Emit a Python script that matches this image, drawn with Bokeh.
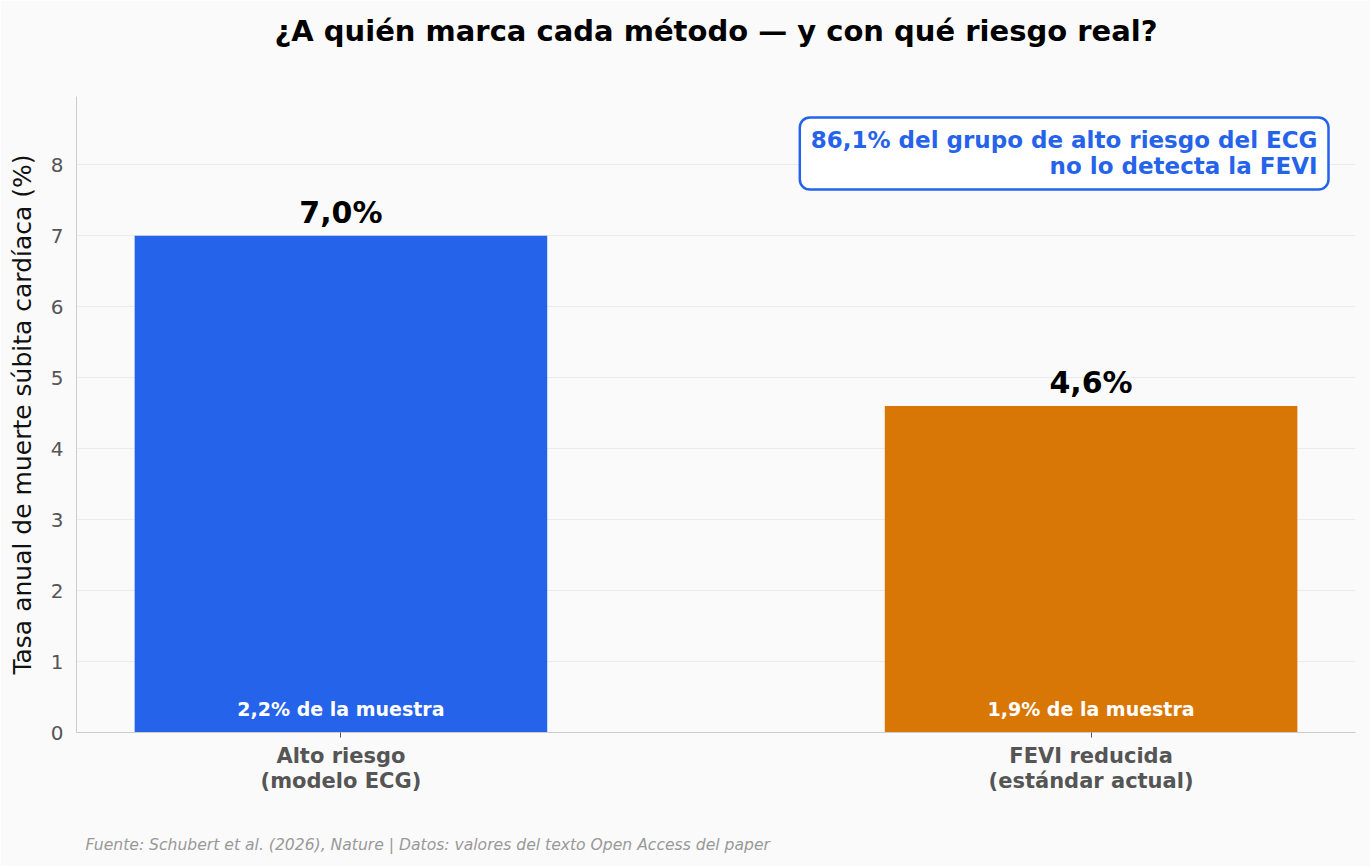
from bokeh.plotting import figure
from bokeh.models import ColumnDataSource, Range1d, LabelSet, Label, FixedTicker, Title
from bokeh.core.properties import value
from bokeh.embed import file_html
from bokeh.resources import INLINE

# Data
categories = ["Alto riesgo\n(modelo ECG)", "FEVI reducida\n(estándar actual)"]
annual_rate = [7.0, 4.6]
rate_labels = ["7,0%", "4,6%"]
sample_share = ["2,2% de la muestra", "1,9% de la muestra"]
bar_colors = ["#2563eb", "#d97706"]
y_ticks = [0, 1, 2, 3, 4, 5, 6, 7, 8]
title_text = "¿A quién marca cada método — y con qué riesgo real?"
note_text = "86,1% del grupo de alto riesgo del ECG\nno lo detecta la FEVI"
source_text = "Fuente: Schubert et al. (2026), Nature | Datos: valores del texto Open Access del paper"

FONT = "DejaVu Sans"
positions = list(range(len(categories)))
bar_width = 0.55

src = ColumnDataSource(dict(
    x=positions, top=annual_rate, color=bar_colors,
    label=rate_labels, share=sample_share, base=[0] * len(positions),
))

span = (len(positions) - 1) + bar_width
pad = 0.05 * span
x_lo = -bar_width / 2 - pad
x_hi = (len(positions) - 1) + bar_width / 2 + pad

p = figure(
    width=1370, height=866, title=None,
    x_range=Range1d(x_lo, x_hi),
    y_range=Range1d(0, max(annual_rate) * 1.28),
    output_backend="svg", toolbar_location=None,
    min_border_left=76, min_border_right=15,
    min_border_top=96, min_border_bottom=134,
)

p.background_fill_color = "#fafafa"
p.border_fill_color = "#fafafa"
p.outline_line_color = None


def gap(height):
    """Blank title panel used as vertical spacing."""
    return Title(text=" ", text_font_size="1px", standoff=height)


# Title block (spacer next to the frame, heading above it)
p.add_layout(gap(37), "above")
p.add_layout(Title(
    text=title_text, align="center", standoff=17,
    text_font=FONT, text_font_size="29px", text_font_style="bold",
    text_color="#000000",
), "above")

# Bars
p.vbar(x="x", top="top", width=bar_width, color="color", source=src, line_color=None)

# Value labels above bars
p.add_layout(LabelSet(
    x="x", y="top", text="label", source=src,
    text_align="center", text_baseline="alphabetic", y_offset=13,
    text_font=value(FONT), text_font_size="30px", text_font_style="bold",
    text_color="#000000",
))

# Sample share inside bars
p.add_layout(LabelSet(
    x="x", y="base", text="share", source=src,
    text_align="center", text_baseline="alphabetic", y_offset=17,
    text_font=value(FONT), text_font_size="19px", text_font_style="bold",
    text_color="#ffffff",
))

# Callout box
p.add_layout(Label(
    x=x_hi - 27 / 750, y=max(annual_rate) * 1.28 - 21 / 71,
    text=note_text, anchor="top_right", text_align="right",
    text_font=FONT, text_font_size="23px", text_font_style="bold",
    text_color="#2563eb", text_line_height=1.0,
    background_fill_color="#ffffff", border_line_color="#2563eb",
    border_line_width=2.5, border_radius=10, padding=(11, 10),
))

# Source note under the axis
p.add_layout(gap(21), "below")
p.add_layout(Title(
    text=source_text, align="left", offset=9, standoff=26,
    text_font=FONT, text_font_size="15.6px", text_font_style="italic",
    text_color="#999999",
), "below")

# Axes
p.xaxis.ticker = FixedTicker(ticks=positions)
p.xaxis.major_label_overrides = {i: c for i, c in zip(positions, categories)}
p.xaxis.major_label_text_font = FONT
p.xaxis.major_label_text_font_size = "21px"
p.xaxis.major_label_text_font_style = "bold"
p.xaxis.major_label_text_color = "#555555"
p.xaxis.major_label_text_line_height = 1.08
p.xaxis.major_tick_out = 5
p.xaxis.major_tick_in = 0
p.xaxis.major_tick_line_color = "#555555"
p.xaxis.minor_tick_line_color = None
p.xaxis.axis_line_color = "#cccccc"
p.xaxis.major_label_standoff = 6

p.yaxis.ticker = FixedTicker(ticks=y_ticks)
p.yaxis.axis_label = "Tasa anual de muerte súbita cardíaca (%)"
p.yaxis.axis_label_text_font = FONT
p.yaxis.axis_label_text_font_size = "25px"
p.yaxis.axis_label_text_font_style = "normal"
p.yaxis.axis_label_text_color = "#111111"
p.yaxis.axis_label_standoff = 11
p.yaxis.major_label_text_font = FONT
p.yaxis.major_label_text_font_size = "20px"
p.yaxis.major_label_text_color = "#555555"
p.yaxis.major_tick_line_color = None
p.yaxis.minor_tick_line_color = None
p.yaxis.axis_line_color = "#cccccc"
p.yaxis.major_label_standoff = 7

p.xgrid.grid_line_color = None
p.ygrid.grid_line_color = "#ebebeb"

open("out.html", "w").write(file_html(p, INLINE))
